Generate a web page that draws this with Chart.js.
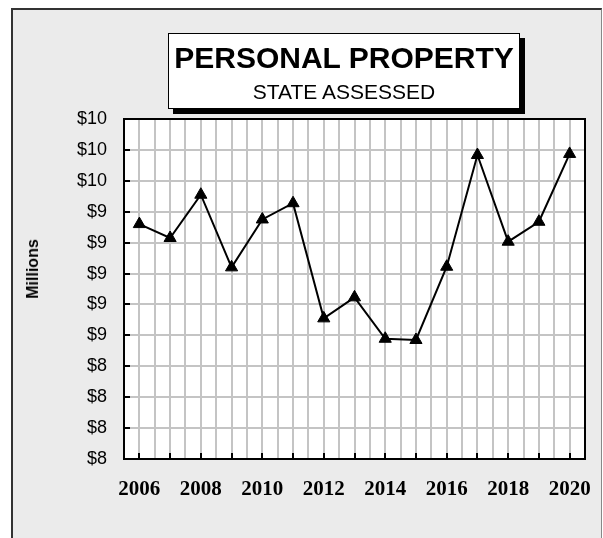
<!DOCTYPE html>
<html>
<head>
<meta charset="utf-8">
<script src="https://cdn.jsdelivr.net/npm/chart.js@4.4.1/dist/chart.umd.min.js"></script>
<style>
  body { margin: 0; background: #fff; }
  #wrap { position: relative; width: 603px; height: 538px; overflow: hidden; }
  #frame {
    position: absolute; left: 11px; top: 8px; width: 588px; height: 540px;
    background: #ebebeb; border-top: 2px solid #333; border-left: 2px solid #333;
    border-right: 1px solid #888;
  }
  #chart { position: absolute; left: 0; top: 0; }
  #titleBox {
    position: absolute; left: 168px; top: 33px; width: 350px; height: 74px;
    background: #fff; border: 1px solid #000; box-shadow: 5px 5px 0 #000;
    font-family: Arial, "Liberation Sans", sans-serif; text-align: center; color: #000;
  }
  #titleBox .main { font-weight: bold; font-size: 30px; line-height: 30px; margin-top: 9px; }
  #titleBox .sub { font-size: 21px; line-height: 21px; margin-top: 8px; }
  #yTitle {
    position: absolute; left: 33px; top: 269px; transform: translate(-50%, -50%) rotate(-90deg);
    font-family: Arial, "Liberation Sans", sans-serif; font-weight: bold; font-size: 16px; color: #000;
    white-space: nowrap;
  }
</style>
</head>
<body>
<div id="wrap">
  <div id="frame"></div>
  <canvas id="chart" width="603" height="538"></canvas>
  <div id="titleBox"><div class="main">PERSONAL PROPERTY</div><div class="sub">STATE ASSESSED</div></div>
  <div id="yTitle">Millions</div>
</div>
<script>
const years = [2006, 2007, 2008, 2009, 2010, 2011, 2012, 2013, 2014, 2015, 2016, 2017, 2018, 2019, 2020]
const values = [9.32, 9.23, 9.51, 9.04, 9.35, 9.455, 8.71, 8.846, 8.578, 8.57, 9.044, 9.767, 9.206, 9.335, 9.774]
const xTickLabels = ['2006', '2008', '2010', '2012', '2014', '2016', '2018', '2020']
const yTickLabels = ['$8', '$8', '$8', '$8', '$9', '$9', '$9', '$9', '$9', '$10', '$10', '$10']

// white plot area, black frame and the small inward tick marks
const plotFrame = {
  id: 'plotFrame',
  beforeDraw(chart) {
    const a = chart.chartArea, ctx = chart.ctx
    ctx.save()
    ctx.fillStyle = '#fff'
    ctx.fillRect(a.left, a.top, a.right - a.left, a.bottom - a.top)
    ctx.restore()
  },
  beforeDatasetsDraw(chart) {
    const a = chart.chartArea, ctx = chart.ctx
    const x = chart.scales.x, y = chart.scales.y
    ctx.save()
    ctx.strokeStyle = '#000'
    ctx.lineWidth = 2
    ctx.beginPath()
    y.ticks.forEach(t => {
      const py = Math.round(y.getPixelForValue(t.value))
      ctx.moveTo(a.left, py)
      ctx.lineTo(a.left + 6, py)
    })
    years.forEach(yr => {
      const px = Math.round(x.getPixelForValue(yr))
      ctx.moveTo(px, a.bottom)
      ctx.lineTo(px, a.bottom - 6)
    })
    ctx.stroke()
    ctx.strokeRect(a.left, a.top, a.right - a.left, a.bottom - a.top)
    ctx.restore()
  }
}

new Chart(document.getElementById('chart'), {
  type: 'line',
  data: {
    datasets: [{
      label: 'Personal Property',
      data: years.map((yr, i) => ({ x: yr, y: values[i] })),
      borderColor: '#000',
      backgroundColor: '#000',
      borderWidth: 2,
      tension: 0,
      pointStyle: 'triangle',
      pointRadius: 7,
      pointBorderWidth: 1
    }]
  },
  options: {
    responsive: false,
    animation: false,
    layout: { padding: { top: 119, right: 17, left: 0, bottom: 0 } },
    plugins: {
      legend: { display: false },
      tooltip: { enabled: false }
    },
    scales: {
      x: {
        type: 'linear',
        min: 2005.5,
        max: 2020.5,
        afterFit: s => { s.height = 79 },
        grid: { color: '#c4c4c4', lineWidth: 2, drawTicks: false },
        border: { display: false },
        ticks: {
          stepSize: 0.5,
          autoSkip: false,
          maxRotation: 0,
          padding: 18,
          color: '#000',
          font: { family: '"Times New Roman", "Liberation Serif", serif', size: 21, weight: 'bold' },
          callback: v => xTickLabels.includes(String(v)) ? String(v) : ''
        }
      },
      y: {
        min: 7.8,
        max: 10,
        afterFit: s => { s.width = 124 },
        grid: { color: '#c4c4c4', lineWidth: 2, drawTicks: false },
        border: { display: false },
        ticks: {
          stepSize: 0.2,
          padding: 17,
          color: '#000',
          font: { family: 'Arial, "Liberation Sans", sans-serif', size: 18 },
          callback: (v, i) => yTickLabels[i]
        }
      }
    }
  },
  plugins: [plotFrame]
})
</script>
</body>
</html>
